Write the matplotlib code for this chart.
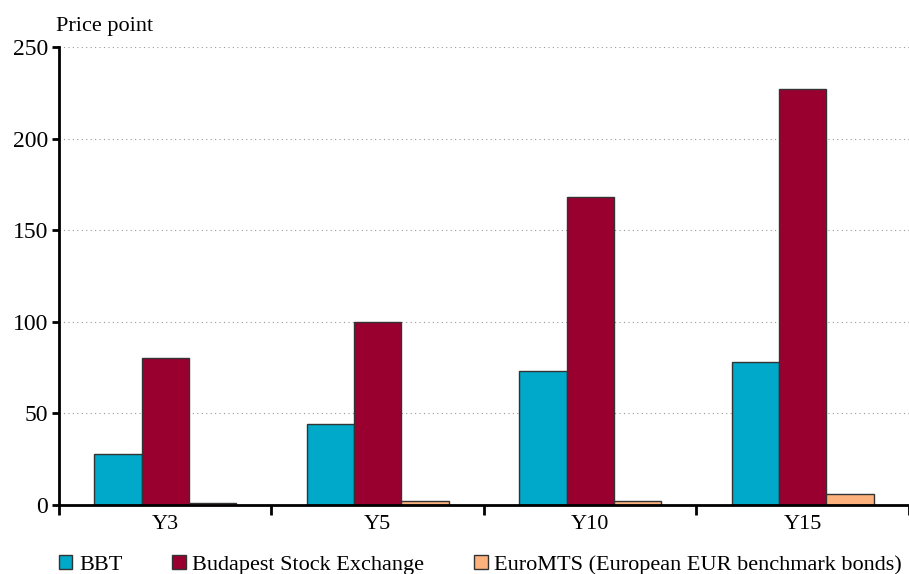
import matplotlib.pyplot as plt
import numpy as np

plt.rcParams['font.family'] = ['Liberation Serif', 'DejaVu Serif']

categories = ["Y3", "Y5", "Y10", "Y15"]
bbt = [28, 44, 73, 78]
bse = [80, 100, 168, 227]
euromts = [1, 2, 2, 6]
series_names = ["BBT", "Budapest Stock Exchange", "EuroMTS (European EUR benchmark bonds)"]
colors = ["#00a9c9", "#990030", "#fdb27d"]

fig = plt.figure(figsize=(9.09, 5.74), dpi=100)
ax = fig.add_axes([0.0649, 0.1202, 0.9351, 0.7979])

x = np.arange(len(categories))
w = 0.222
for i, (vals, name, c) in enumerate(zip([bbt, bse, euromts], series_names, colors)):
    ax.bar(x + (i - 1) * w, vals, w, color=c, edgecolor="#333333", linewidth=1, label=name, zorder=3)

ax.set_xlim(-0.5, len(categories) - 0.5)
ax.set_ylim(0, 250)
ax.set_yticks(range(0, 251, 50))
ax.set_xticks(x)
ax.set_xticklabels(categories)
ax.set_xticks(np.arange(-0.5, len(categories)), minor=True)
ax.tick_params(axis="x", which="major", length=0, labelsize=16, pad=7)
ax.tick_params(axis="x", which="minor", length=7, width=2, direction="out")
ax.tick_params(axis="y", length=5, width=2, labelsize=17, pad=3)
ax.yaxis.grid(True, linestyle=(0, (1, 3)), color="#999999", linewidth=0.8, zorder=0)
for s in ["top", "right"]:
    ax.spines[s].set_visible(False)
for s in ["left", "bottom"]:
    ax.spines[s].set_linewidth(2)
    ax.spines[s].set_zorder(4)

fig.text(0.062, 0.953, "Price point", fontsize=16, ha="left", va="center")

fig.legend(loc="lower left", bbox_to_anchor=(0.043, -0.037), ncol=3, frameon=False,
           fontsize=16, handlelength=0.6, handleheight=0.6, handletextpad=0.3,
           columnspacing=2.25)

fig.savefig("out.png", dpi=100)
